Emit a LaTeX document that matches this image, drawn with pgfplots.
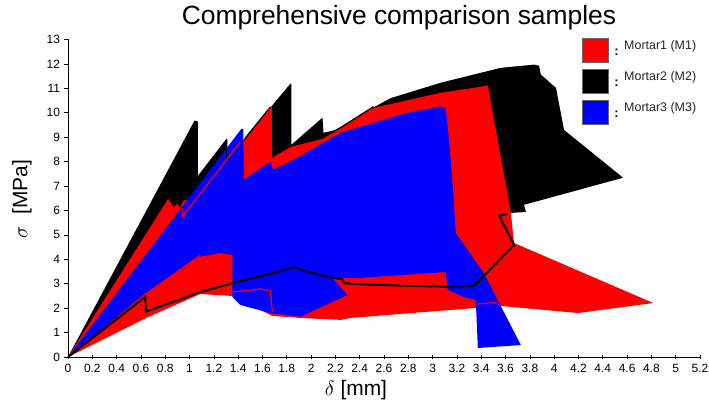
\documentclass[border=0pt]{standalone}
\usepackage{pgfplots}
\pgfplotsset{compat=1.18}
\usepackage{fontspec}
\setmainfont{Liberation Sans}
\begin{document}
\begin{tikzpicture}[x=1bp,y=1bp]
\path[use as bounding box] (0,0) rectangle (709,407);
\begin{axis}[
    at={(68bp,50bp)}, anchor=south west,
    scale only axis,
    width=632bp, height=317.5bp,
    xmin=0, xmax=5.2, ymin=0, ymax=13,
    axis lines*=left,
    axis line style={black, line width=0.8pt},
    xtick={0,0.2,0.4,0.6,0.8,1,1.2,1.4,1.6,1.8,2,2.2,2.4,2.6,2.8,3,3.2,3.4,3.6,3.8,4,4.2,4.4,4.6,4.8,5,5.2},
    xticklabels={0,0.2,0.4,0.6,0.8,1,1.2,1.4,1.6,1.8,2,2.2,2.4,2.6,2.8,3,3.2,3.4,3.6,3.8,4,4.2,4.4,4.6,4.8,5,5.2},
    ytick={0,1,...,13},
    tick align=outside,
    major tick length=4.5bp,
    tick style={black, line width=0.6pt},
    x tick style={yshift=2.2bp},
    tick label style={font=\fontsize{12}{14}\selectfont, text=black},
    xticklabel style={yshift=1bp, inner xsep=0pt},
    /pgf/number format/assume math mode=true,
    clip=false,
]
% Mortar2 (M2) envelope
\addplot[fill=black, draw=none] coordinates {
    (0,0) (1.041,9.68) (1.069,9.64) (1.069,7.42) (1.303,8.93) (1.311,8.93)
    (1.311,8.57) (1.443,8.48) (1.443,8.89) (1.830,11.19) (1.838,11.19)
    (1.838,8.69) (2.094,9.80) (2.102,9.18) (2.284,9.39) (2.407,9.85)
    (2.514,10.22) (2.655,10.60) (3.067,11.23) (3.561,11.84) (3.833,11.97)
    (3.875,11.93) (3.891,11.56) (4.015,11.02) (4.081,9.30) (4.567,7.34)
    (3.751,6.23) (3.768,5.94) (3.644,5.90) (3.479,5.20) (2.737,4.80)
    (1.500,4.39) (0.511,2.75)
} -- cycle;
% Mortar1 (M1) envelope
\addplot[fill=red, draw=none] coordinates {
    (0,0) (0.824,6.48) (0.866,6.15) (0.899,6.27) (0.923,6.11) (0.948,6.39)
    (1.088,6.64) (1.443,7.25) (1.443,8.80) (1.671,10.23)
    (1.678,10.23) (1.678,8.16) (1.838,8.61) (2.094,8.93) (2.284,9.51)
    (2.407,9.92) (2.514,10.20) (3.067,10.82) (3.454,11.11) (3.644,5.90)
    (3.669,4.67) (4.815,2.21) (4.196,1.80) (3.561,2.09) (2.325,1.60)
    (2.242,1.52) (1.913,1.60) (1.682,1.68) (1.418,2.34) (1.352,2.50)
    (1.088,2.58) (0.643,1.60)
} -- cycle;
% Mortar3 (M3) envelope
\addplot[fill=blue, draw=none] coordinates {
    (0,0) (1.426,9.34) (1.443,9.34) (1.443,7.25) (1.665,7.99)
    (1.690,7.66) (1.888,8.16) (2.242,9.18) (2.514,9.59) (2.795,10.00)
    (3.067,10.26) (3.108,10.20) (3.149,8.07) (3.174,6.43) (3.190,5.08)
    (3.421,3.44) (3.726,0.49) (3.372,0.37) (3.355,2.34) (3.256,2.46)
    (3.124,2.75) (3.108,3.48) (2.407,3.24) (2.176,3.24) (2.300,2.54)
    (1.913,1.65) (1.665,1.80) (1.418,2.13) (1.352,2.46) (1.352,4.18)
    (1.253,4.26) (1.088,4.11) (1.088,4.20) (0.618,2.54)
} -- cycle;
% thin curves drawn over the fills
\addplot[red, line width=1.2pt] coordinates {(0.945,6.09) (0.940,5.74) (1.418,8.80)};
\addplot[red, line width=1.2pt] coordinates {(1.360,2.66) (1.583,2.79) (1.665,2.70) (1.682,1.84)};
\addplot[red, line width=1.2pt] coordinates {(3.369,2.17) (3.534,2.24)};
\addplot[black, line width=0.9pt] coordinates {(1.459,8.98) (1.665,10.25)};
\addplot[black, line width=0.9pt] coordinates {(1.303,8.10) (1.303,8.50)};
\addplot[black, line width=1.3pt] coordinates {(2.092,8.98) (2.242,9.39) (2.514,10.25)};
\addplot[black, line width=2pt] coordinates {
    (0,0) (0.635,2.46) (0.643,1.86) (1.088,2.66) (1.36,3.03) (1.871,3.68)
    (1.913,3.57) (2.133,3.29) (2.256,3.18) (2.275,3.02) (2.407,2.98)
    (2.82,2.91) (3.122,2.88) (3.341,2.91) (3.671,4.59) (3.547,5.78) (3.617,5.86)
};
\end{axis}
% title and axis labels
\node[font=\fontsize{26.5}{30}\selectfont] at (399,389) {Comprehensive comparison samples};
\node[font=\fontsize{21}{25}\selectfont] at (356,17) {$\delta$ [mm]};
\node[font=\fontsize{21}{25}\selectfont, rotate=90] at (22,208) {$\sigma$ \ [MPa]};
% legend
\foreach \c/\t [count=\i] in {red/Mortar1 (M1), black/Mortar2 (M2), blue/Mortar3 (M3)} {
  \pgfmathsetmacro{\yc}{407-50-(\i-1)*31}
  \filldraw[fill=\c, draw=black!60, line width=0.6pt] (582,\yc-12) rectangle (608,\yc+12);
  \node[font=\bfseries\fontsize{13}{15}\selectfont, inner sep=0pt] at (616.5,\yc-2) {:};
  \node[font=\fontsize{12.5}{15}\selectfont, anchor=west, inner sep=0pt, text=black!85] at (624,\yc+4) {\t};
}
\end{tikzpicture}
\end{document}
